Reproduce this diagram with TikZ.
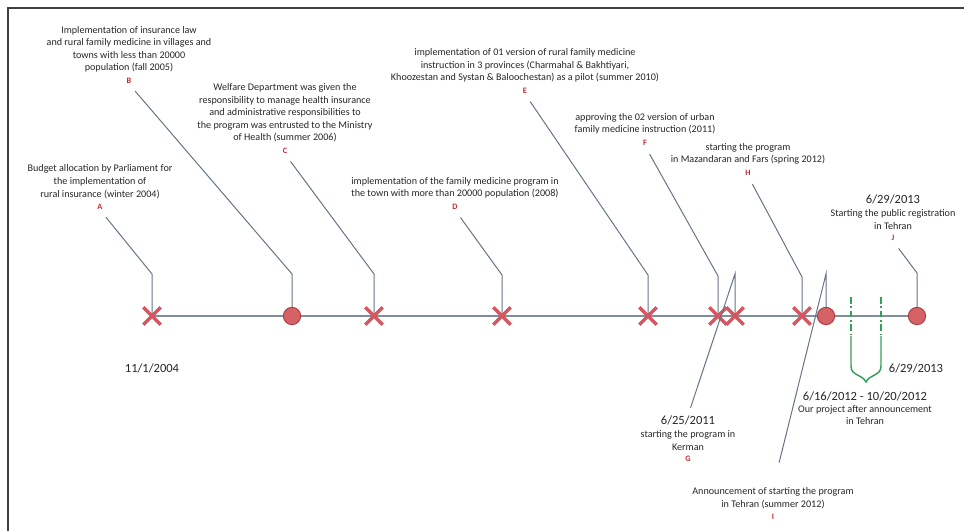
\documentclass[tikz,border=0pt]{standalone}
\usepackage{fontspec}
\setmainfont{Carlito}
\usetikzlibrary{shapes.misc,positioning,backgrounds}
\usepackage{xcolor}

\definecolor{crossred}{RGB}{215,85,95}
\definecolor{dotfill}{RGB}{212,98,102}
\definecolor{dotedge}{RGB}{172,62,68}
\definecolor{lettred}{RGB}{200,40,50}
\definecolor{leadgray}{RGB}{100,116,132}
\definecolor{axisgray}{RGB}{128,141,156}
\definecolor{bracegreen}{RGB}{52,160,92}
\definecolor{txtgray}{RGB}{38,38,38}

\begin{document}
\begin{tikzpicture}[x=0.75pt,y=-0.75pt]
      \tikzstyle{event} = [align=center, font=\fontsize{7.6}{9.4}\selectfont, text=txtgray, inner sep=0pt]
      \tikzstyle{lett} = [font=\fontsize{6.2}{7}\selectfont\bfseries, text=lettred, inner sep=0pt]
      \tikzstyle{datum} = [align=center, font=\fontsize{9.4}{11}\selectfont, text=txtgray, inner sep=0pt]
      \tikzstyle{xmark} = [cross out, draw=crossred, line width=2.6pt, minimum size=10.5pt, inner sep=0pt]
      \tikzstyle{omark} = [circle, draw=dotedge, fill=dotfill, line width=0.7pt, minimum size=13pt, inner sep=0pt]
      \tikzstyle{leader} = [draw=leadgray, line width=0.75pt, shorten <=7pt]
      \tikzstyle{brace} = [draw=bracegreen, line width=1.1pt]

      \useasboundingbox (0,0) rectangle (964,531);
      \draw[black!75, line width=1.3pt] (8,531) -- (8,8) -- (964,8);

      % markers on the time axis
      \node[xmark] (mA) at (152,316) {};
      \node[omark] (mB) at (292,316) {};
      \node[xmark] (mC) at (374,316) {};
      \node[xmark] (mD) at (502,316) {};
      \node[xmark] (mE) at (648,316) {};
      \node[xmark] (mF) at (718,316) {};
      \node[xmark] (mG) at (735,316) {};
      \node[xmark] (mH) at (802,316) {};
      \node[omark] (mI) at (826,316) {};
      \node[omark] (mJ) at (917,316) {};

      % letters and descriptions
      \node[lett] (lA) at (100,207) {A};
      \node[event, above=4pt of lA] (tA) {Budget allocation by Parliament for\\the implementation of\\rural insurance (winter 2004)};
      \node[lett] (lB) at (129,81) {B};
      \node[event, above=4pt of lB] (tB) {Implementation of insurance law\\and rural family medicine in villages and\\towns with less than 20000\\population (fall 2005)};
      \node[lett] (lC) at (285,151) {C};
      \node[event, above=4pt of lC] (tC) {Welfare Department was given the\\responsibility to manage health insurance\\and administrative responsibilities to\\the program was entrusted to the Ministry\\of Health (summer 2006)};
      \node[lett] (lD) at (455,207) {D};
      \node[event, above=4pt of lD] (tD) {implementation of the family medicine program in\\the town with more than 20000 population (2008)};
      \node[lett] (lE) at (525,91) {E};
      \node[event, above=4pt of lE] (tE) {implementation of 01 version of rural family medicine\\instruction in 3 provinces (Charmahal \& Bakhtiyari,\\Khoozestan and Systan \& Baloochestan) as a pilot (summer 2010)};
      \node[lett] (lF) at (645,143) {F};
      \node[event, above=4pt of lF] (tF) {approving the 02 version of urban\\family medicine instruction (2011)};
      \node[lett] (lG) at (688,459) {G};
      \node[event, above=4pt of lG] (tG) {starting the program in\\Kerman};
      \node[datum, above=4pt of tG] (dG) {6/25/2011};
      \node[lett] (lH) at (748,173) {H};
      \node[event, above=4pt of lH] (tH) {starting the program\\in Mazandaran and Fars (spring 2012)};
      \node[lett] (lI) at (773,517) {I};
      \node[event, above=4pt of lI] (tI) {Announcement of starting the program\\in Tehran (summer 2012)};
      \node[lett] (lJ) at (893,238) {J};
      \node[event, above=4pt of lJ] (tJ) {Starting the public registration\\in Tehran};
      \node[datum, above=4pt of tJ] (dJ) {6/29/2013};

      \node[datum] (d04) at (152,368) {11/1/2004};
      \node[datum] (d13) at (916,368) {6/29/2013};
      \node[datum] (dP) at (865,396) {6/16/2012 - 10/20/2012};
      \node[event, below=3pt of dP] (tP) {Our project after announcement\\in Tehran};

      % bends of the leader lines
      \coordinate (kA) at (152,274);
      \coordinate (kB) at (292,274);
      \coordinate (kC) at (374,274);
      \coordinate (kD) at (502,275);
      \coordinate (kE) at (648,275);
      \coordinate (kF) at (718,276);
      \coordinate (kG) at (735,274);
      \coordinate (kH) at (802,277);
      \coordinate (kI) at (826,274);
      \coordinate (kJ) at (917,273);

      \begin{scope}[on background layer]
        \draw[axisgray, line width=1.4pt] (mA.center) -- (mJ.center);
        \draw[leader] (lA.south) -- (kA) -- (mA.center);
        \draw[leader] (lB.south) -- (kB) -- (mB.center);
        \draw[leader] (lC.south) -- (kC) -- (mC.center);
        \draw[leader] (lD.south) -- (kD) -- (mD.center);
        \draw[leader] (lE.south) -- (kE) -- (mE.center);
        \draw[leader] (lF.south) -- (kF) -- (mF.center);
        \draw[leader] (lH.south) -- (kH) -- (mH.center);
        \draw[leader] (lJ.south) -- (kJ) -- (mJ.center);
      \end{scope}
      \draw[leader, shorten <=6pt] (dG.north) -- (kG) -- (mG.center);
      \draw[leader, shorten <=19pt] (tI.north) -- (kI) -- (mI);

      % project period
      \coordinate (p1) at (851,297);
      \coordinate (q1) at (851,336);
      \coordinate (p2) at (881,297);
      \coordinate (q2) at (881,336);
      \coordinate (tip) at (866,382);
      \draw[brace, dash pattern=on 5pt off 2pt on 1.2pt off 2pt] (p1) -- (q1);
      \draw[brace, dash pattern=on 5pt off 2pt on 1.2pt off 2pt] (p2) -- (q2);
      \draw[brace] (q1) -- (851,366) .. controls (851,376) and (862,374) .. (tip)
            .. controls (870,374) and (881,376) .. (881,366) -- (q2);
\end{tikzpicture}
\end{document}
